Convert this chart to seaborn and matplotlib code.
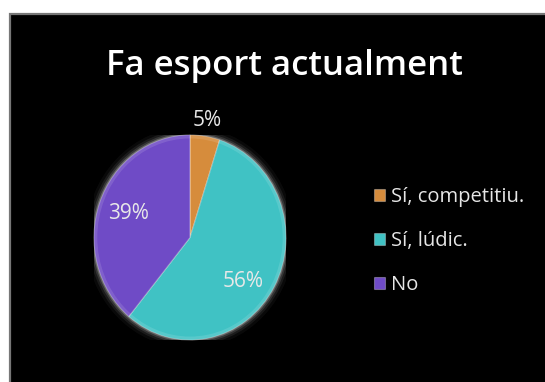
import numpy as np
import matplotlib
matplotlib.use("Agg")
import matplotlib.pyplot as plt
from matplotlib.patches import Rectangle, Ellipse
import seaborn as sns

# Survey answers: "Do you currently do sport?"
categories = ["Sí, competitiu.", "Sí, lúdic.", "No"]
shares = [5, 56, 39]
colors = ["#d68c3c", "#40c2c4", "#6f4bc6"]
title = "Fa esport actualment"

sns.set_theme(style="dark")
plt.rcParams["font.family"] = ["Open Sans", "DejaVu Sans"]

W, H = 545, 382
fig = plt.figure(figsize=(W / 100, H / 100), dpi=100)
fig.patch.set_facecolor("white")

# black slide panel with a grey rim on the left and top
fig.patches.append(Rectangle((10 / W, -0.02), 1.0, (H - 14) / H + 0.02,
                             transform=fig.transFigure, facecolor="#000000",
                             edgecolor="#777777", linewidth=1.6, zorder=-5))

fig.text(284 / W, 1 - 66 / H, title, ha="center", va="center",
         fontsize=25, color="white", fontweight="semibold")

# pie axes placed by pixel bounds (slightly taller than wide)
left, right, top, bottom = 94, 286, 135, 340
ax = fig.add_axes([left / W, 1 - bottom / H, (right - left) / W, (bottom - top) / H])
ax.set_facecolor("none")
ax.axis("off")

# soft white glow around the pie
for lw, a in [(12, 0.04), (8, 0.07), (5, 0.12), (2.5, 0.22)]:
    ax.add_patch(Ellipse((0, 0), 2.0, 2.0, facecolor="none", edgecolor="white",
                         linewidth=lw, alpha=a, zorder=1))

wedges, _ = ax.pie(shares, colors=colors, startangle=90, counterclock=False,
                   radius=1.0, frame=False,
                   wedgeprops=dict(edgecolor=(1, 1, 1, 0.35), linewidth=0.8))
for w in wedges:
    w.set_zorder(2)

# faint bevel highlight just inside the rim
ax.add_patch(Ellipse((0, 0), 1.96, 1.96, facecolor="none", edgecolor="white",
                     linewidth=2.0, alpha=0.12, zorder=3))
ax.set_xlim(-1, 1)
ax.set_ylim(-1, 1)
ax.set_aspect("auto")

# percentage labels near each wedge's bisector
dist = [1.16, 0.70, 0.68]
turn = [0, -9, 0]
for w, v, d, t in zip(wedges, shares, dist, turn):
    ang = np.deg2rad((w.theta1 + w.theta2) / 2 + t)
    ax.text(d * np.cos(ang), d * np.sin(ang), f"{v}%", ha="center", va="center",
            fontsize=15, color="#e8e8e8", zorder=5, clip_on=False)

leg = fig.legend(wedges, categories, loc="upper left",
                 bbox_to_anchor=(374 / W, 1 - 187 / H), frameon=False,
                 fontsize=14.5, labelcolor="#e6e6e6", handlelength=0.55,
                 handleheight=0.55, handletextpad=0.3, labelspacing=1.2,
                 borderpad=0, borderaxespad=0)
for h in leg.legend_handles:
    h.set_edgecolor((1, 1, 1, 0.3))

fig.savefig("out.png", dpi=100, facecolor=fig.get_facecolor())
